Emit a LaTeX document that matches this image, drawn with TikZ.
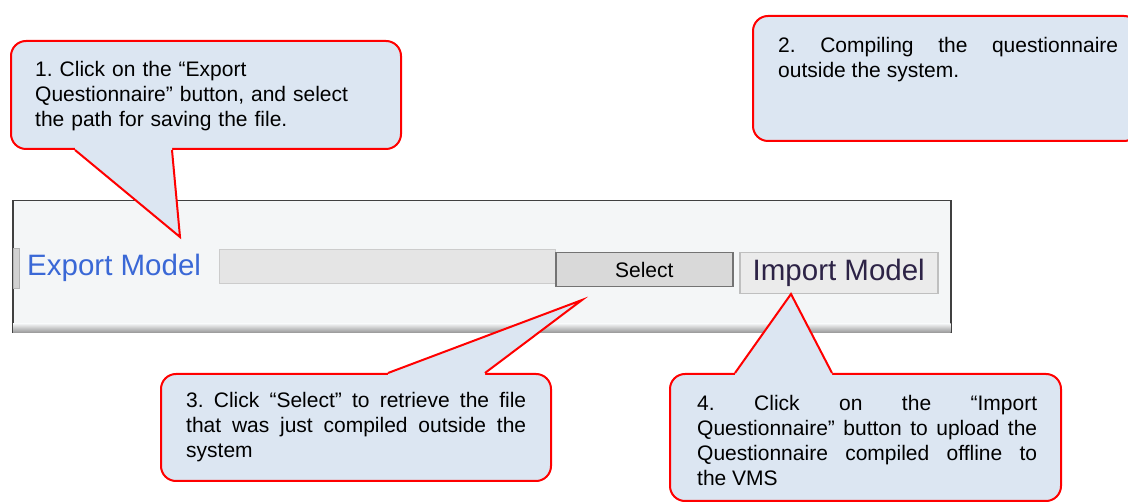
\documentclass[tikz,border=0pt]{standalone}
\usepackage{fontspec}
\setmainfont{Liberation Sans}
\usepackage{tikz}
\usetikzlibrary{positioning,calc}
\definecolor{balloon}{RGB}{220,230,242}
\definecolor{balloonedge}{RGB}{255,0,0}
\definecolor{panelbg}{RGB}{244,246,247}
\definecolor{linkblue}{RGB}{58,104,214}
\definecolor{btntext}{RGB}{45,35,70}
\frenchspacing

\begin{document}
\begin{tikzpicture}[x=1pt,y=-1pt,
	widget/.style={rectangle,anchor=north west,inner sep=0pt,line width=1pt},
	box/.style={rectangle,rounded corners=15pt,fill=balloon,draw=balloonedge,line width=2pt,anchor=north west,inner sep=0pt},
	note/.style={anchor=north west,inner sep=0pt,text width=340pt,align=justify,font=\fontsize{21}{25}\selectfont},
	tail/.style={fill=balloon},
	tailedge/.style={draw=balloonedge,line width=2pt}]
	
	\useasboundingbox (0,0) rectangle (1128,502);
	\clip (0,0) rectangle (1128,502);
	
	% the strip of the program window
	\node[widget,draw=black!75,fill=panelbg,line width=1.5pt,minimum width=938pt,minimum height=132pt] (panel) at (12,200) {};
	\shade[top color=panelbg,bottom color=black!40] ($(panel.south west)+(1,-10)$) rectangle ($(panel.south east)+(-1,-1)$);
	
	\node[widget,draw=black!30,fill=black!18,minimum width=6pt,minimum height=40pt] (prevbtn) at (13,248) {};
	\node[anchor=base west,inner sep=0pt,text=linkblue,font=\fontsize{29.5}{30}\selectfont] (exportlbl) at (27,276) {Export Model};
	\node[widget,draw=black!20,fill=black!10,minimum width=336pt,minimum height=34pt] (pathfield) at (219,249) {};
	\node[widget,draw=black!55,fill=black!15,line width=1.5pt,minimum width=177pt,minimum height=34pt,font=\fontsize{21}{25}\selectfont] (selectbtn) at (555,252) {Select};
	\node[widget,draw=black!25,fill=black!8,line width=1.5pt,minimum width=198pt,minimum height=41pt,text=btntext,font=\fontsize{29.5}{30}\selectfont] (importbtn) at (739,252) {Import Model};
	
	% balloons
	\node[box,minimum width=390pt,minimum height=108pt] (box1) at (10,40) {};
	\node[box,minimum width=386pt,minimum height=125pt] (box2) at (752,15) {};
	\node[box,minimum width=390pt,minimum height=107pt] (box3) at (160,373) {};
	\node[box,minimum width=391pt,minimum height=127pt] (box4) at (669,373) {};
	
	\coordinate (tip1) at (180,237);
	\coordinate (tip3) at (582,300);
	\coordinate (tip4) at (791,294);
	
	\coordinate (b1l) at ($(box1.south west)+(65,0)$);
	\coordinate (b1r) at ($(box1.south west)+(162,0)$);
	\coordinate (b3l) at ($(box3.north west)+(228,0)$);
	\coordinate (b3r) at ($(box3.north west)+(325,0)$);
	\coordinate (b4l) at ($(box4.north west)+(66,0)$);
	\coordinate (b4r) at ($(box4.north west)+(163,0)$);
	
	\fill[tail] ($(b1l)+(0,-3)$) -- (b1l) -- (tip1) -- (b1r) -- ($(b1r)+(0,-3)$) -- cycle;
	\fill[tail] ($(b3l)+(0,3)$) -- (b3l) -- (tip3) -- (b3r) -- ($(b3r)+(0,3)$) -- cycle;
	\fill[tail] ($(b4l)+(0,3)$) -- (b4l) -- (tip4) -- (b4r) -- ($(b4r)+(0,3)$) -- cycle;
	
	\draw[tailedge] (b1l) -- (tip1) -- (b1r);
	\draw[tailedge] (b3l) -- (tip3) -- (b3r);
	\draw[tailedge] (b4l) -- (tip4) -- (b4r);
	
	\node[note,align=left] (note1) at (35,61) {1. Click on the “Export\\Questionnaire” button, and select\\the path for saving the file.};
	\node[note] (note2) at (778,37) {2. Compiling the questionnaire\linebreak outside the system.};
	\node[note] (note3) at (186,392) {3. Click “Select” to retrieve the file\linebreak that was just compiled outside the\linebreak system};
	\node[note] (note4) at (697,395) {4. Click on the “Import\linebreak Questionnaire” button to upload the\linebreak Questionnaire compiled offline to\linebreak the VMS};
	
\end{tikzpicture}
\end{document}
